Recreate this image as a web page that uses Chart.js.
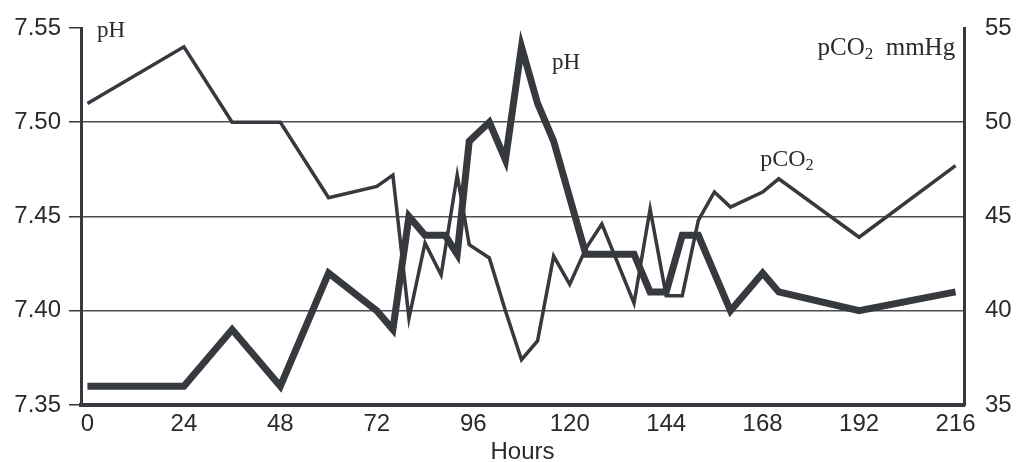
<!DOCTYPE html>
<html>
<head>
<meta charset="utf-8">
<script src="https://cdn.jsdelivr.net/npm/chart.js@4.4.1/dist/chart.umd.min.js"></script>
<style>
  body { margin: 0; background: #fff; }
  #wrap { width: 1017px; height: 462px; }
</style>
</head>
<body>
<div id="wrap"><canvas id="bloodGasChart" width="1017" height="462"></canvas></div>
<script>
// values (hours after admission)
const phHours = [0, 24, 36, 48, 60, 72, 76, 80, 84, 89, 92, 95, 100, 104, 108, 112, 116, 124, 136, 140, 144, 148, 152, 160, 168, 172, 192, 216];
const phValues = [7.36, 7.36, 7.39, 7.36, 7.42, 7.40, 7.39, 7.45, 7.44, 7.44, 7.43, 7.49, 7.50, 7.48, 7.54, 7.51, 7.49, 7.43, 7.43, 7.41, 7.41, 7.44, 7.44, 7.40, 7.42, 7.41, 7.40, 7.41];

const co2Hours = [0, 24, 36, 48, 60, 72, 76, 80, 84, 88, 92, 95, 100, 104, 108, 112, 116, 120, 124, 128, 136, 140, 144, 148, 152, 156, 160, 168, 172, 192, 216];
const co2Values = [51, 54, 50, 50, 46, 46.6, 47.2, 39.6, 43.6, 41.9, 47.2, 43.5, 42.8, 40.0, 37.4, 38.4, 42.9, 41.4, 43.3, 44.6, 40.4, 45.4, 40.8, 40.8, 44.8, 46.3, 45.5, 46.3, 47.0, 43.9, 47.7];

const hourTicks = [0, 24, 48, 72, 96, 120, 144, 168, 192, 216];
const phTicks = [7.35, 7.40, 7.45, 7.50, 7.55];
const co2Ticks = [35, 40, 45, 50, 55];

const ink = '#36393e';
const textInk = '#2a2a2a';
const sans = '"Liberation Sans", Arial, sans-serif';
const serif = '"Liberation Serif", "Times New Roman", serif';

// draws "pCO2"-style text with a lowered small 2
function drawChem(ctx, parts, x, y, size, align) {
    let widths = parts.map(p => {
        ctx.font = (p[1] ? size * 0.68 : size) + 'px ' + serif;
        return ctx.measureText(p[0]).width;
    });
    let total = widths.reduce((a, b) => a + b, 0);
    let cx = align === 'right' ? x - total : x;
    ctx.textAlign = 'left';
    ctx.textBaseline = 'alphabetic';
    parts.forEach((p, i) => {
        ctx.font = (p[1] ? size * 0.68 : size) + 'px ' + serif;
        ctx.fillText(p[0], cx, p[1] ? y + size * 0.18 : y);
        cx += widths[i];
    });
}

const curveLabels = {
    id: 'curveLabels',
    afterDatasetsDraw(chart) {
        const {ctx, scales} = chart;
        const x = scales.x, ph = scales.y, co2 = scales.y2;
        ctx.save();
        ctx.fillStyle = textInk;
        drawChem(ctx, [['pH', false]], x.getPixelForValue(2.4), ph.getPixelForValue(7.545), 23, 'left');
        drawChem(ctx, [['pH', false]], x.getPixelForValue(115.6), ph.getPixelForValue(7.528), 23, 'left');
        drawChem(ctx, [['pCO', false], ['2', true]], x.getPixelForValue(167.4), co2.getPixelForValue(47.7), 24, 'left');
        drawChem(ctx, [['pCO', false], ['2', true], ['  mmHg', false]], x.getPixelForValue(215.9), co2.getPixelForValue(53.57), 25, 'right');
        ctx.restore();
    }
};

new Chart(document.getElementById('bloodGasChart'), {
    type: 'line',
    data: {
        datasets: [{
            label: 'pH',
            data: phHours.map((h, i) => ({x: h, y: phValues[i]})),
            yAxisID: 'y',
            borderColor: ink,
            borderWidth: 7,
            borderJoinStyle: 'miter',
            pointRadius: 0,
            tension: 0
        }, {
            label: 'pCO2',
            data: co2Hours.map((h, i) => ({x: h, y: co2Values[i]})),
            yAxisID: 'y2',
            borderColor: ink,
            borderWidth: 3.5,
            borderJoinStyle: 'miter',
            pointRadius: 0,
            tension: 0
        }]
    },
    options: {
        responsive: false,
        animation: false,
        layout: { padding: { top: 28, left: 0, right: 0, bottom: 0 } },
        plugins: { legend: { display: false }, tooltip: { enabled: false } },
        scales: {
            x: {
                type: 'linear',
                min: -1.6,
                max: 218.1,
                afterBuildTicks: s => { s.ticks = hourTicks.map(v => ({value: v})); },
                afterFit: s => { s.height = 57; },
                grid: { display: false, drawTicks: false },
                border: { display: true, color: ink, width: 4 },
                ticks: { color: textInk, font: { family: sans, size: 24 }, padding: 5, maxRotation: 0, autoSkip: false },
                title: { display: true, text: 'Hours', color: textInk, font: { family: sans, size: 24 }, padding: { top: 0, bottom: -5 } }
            },
            y: {
                position: 'left',
                min: 7.35,
                max: 7.55,
                afterBuildTicks: s => { s.ticks = phTicks.map(v => ({value: v})); },
                afterFit: s => { s.width = 81; s.paddingTop = 0; s.paddingBottom = 0; },
                grid: {
                    color: c => (c.index === 0 || c.index === phTicks.length - 1) ? 'rgba(0,0,0,0)' : '#4d4d4d',
                    tickColor: ink,
                    lineWidth: 1.5,
                    tickLength: 12
                },
                border: { display: true, color: ink, width: 3 },
                ticks: { color: textInk, font: { family: sans, size: 24 }, padding: 8, callback: v => v.toFixed(2) }
            },
            y2: {
                position: 'right',
                min: 35,
                max: 55,
                afterBuildTicks: s => { s.ticks = co2Ticks.map(v => ({value: v})); },
                afterFit: s => { s.width = 53; s.paddingTop = 0; s.paddingBottom = 0; },
                grid: { display: false, drawTicks: false },
                border: { display: true, color: ink, width: 3 },
                ticks: { color: textInk, font: { family: sans, size: 24 }, padding: 21 }
            }
        }
    },
    plugins: [curveLabels]
});
</script>
</body>
</html>
